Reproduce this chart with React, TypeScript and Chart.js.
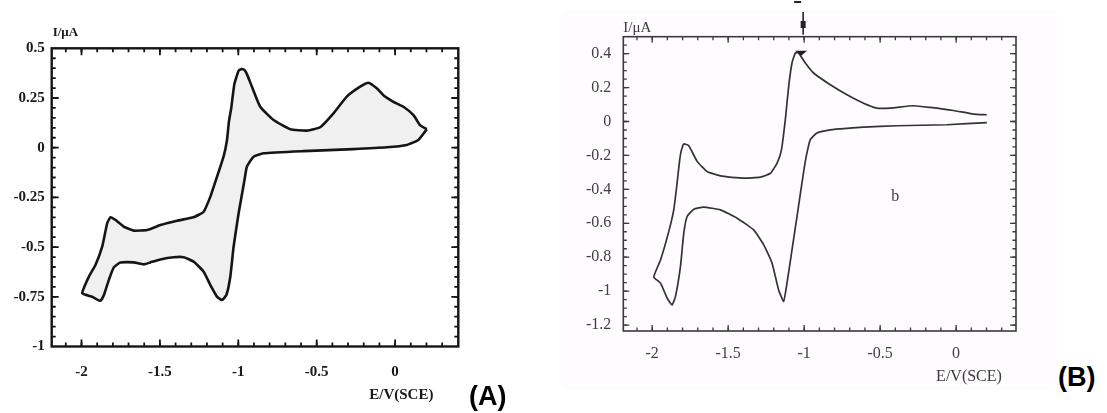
import React, { useEffect, useRef } from "react";
import { Chart, registerables } from "chart.js";

Chart.register(...registerables);

// ---------- Panel (A) ----------
const aPotential = [
  0.202, 0.191, 0.148, 0.075, -0.053, -0.266, -0.584, -0.839, -0.903, -0.945, -0.96, -0.998, -1.03, -1.051,
  -1.076, -1.104, -1.136, -1.178, -1.221, -1.285, -1.348, -1.412, -1.497, -1.561, -1.603, -1.667, -1.752,
  -1.794, -1.826, -1.857, -1.879, -1.932, -1.995,
  -1.953, -1.911, -1.868, -1.836, -1.815, -1.783, -1.731, -1.667, -1.581, -1.497, -1.391, -1.285, -1.221,
  -1.178, -1.15, -1.094, -1.072, -1.06, -1.045, -1.025, -0.998, -0.977, -0.96, -0.945, -0.913, -0.86,
  -0.775, -0.669, -0.562, -0.478, -0.393, -0.308, -0.223, -0.17, -0.117, -0.064, -0.011, 0.053, 0.117,
  0.159, 0.202,
];
const aCurrent = [
  0.093, 0.081, 0.039, 0.014, 0.002, -0.007, -0.017, -0.028, -0.045, -0.095, -0.16, -0.33, -0.498, -0.649,
  -0.741, -0.766, -0.749, -0.691, -0.624, -0.573, -0.551, -0.551, -0.562, -0.577, -0.587, -0.577, -0.578,
  -0.602, -0.666, -0.741, -0.77, -0.75, -0.732,
  -0.649, -0.59, -0.498, -0.38, -0.35, -0.364, -0.397, -0.417, -0.414, -0.389, -0.367, -0.35, -0.322,
  -0.246, -0.18, -0.045, 0.039, 0.13, 0.2, 0.32, 0.387, 0.396, 0.39, 0.37, 0.307, 0.206,
  0.139, 0.093, 0.086, 0.103, 0.173, 0.257, 0.307, 0.327, 0.299, 0.257, 0.231, 0.206, 0.164,
  0.114, 0.093,
];
const aXTicks = [-2, -1.5, -1, -0.5, 0];
const aYTicks = [0.5, 0.25, 0, -0.25, -0.5, -0.75, -1];

// ---------- Panel (B) ----------
const bPotential = [
  0.202, -0.061, -0.39, -0.609, -0.828, -0.916, -0.96, -0.985, -1.004, -1.047, -1.08, -1.113, -1.135,
  -1.168, -1.211, -1.266, -1.332, -1.441, -1.551, -1.661, -1.726, -1.77, -1.792, -1.814, -1.847, -1.869,
  -1.901, -1.945, -1.989,
  -1.945, -1.891, -1.858, -1.836, -1.819, -1.808, -1.792, -1.759, -1.704, -1.639, -1.551, -1.398, -1.288,
  -1.222, -1.178, -1.15, -1.124, -1.102, -1.08, -1.058, -1.037, -0.992, -0.938, -0.828, -0.718, -0.609,
  -0.521, -0.434, -0.28, -0.171, -0.018, 0.114, 0.202,
];
const bCurrent = [
  -0.006, -0.019, -0.025, -0.033, -0.049, -0.068, -0.108, -0.2, -0.3, -0.56, -0.757, -0.953, -1.06,
  -0.993, -0.835, -0.727, -0.639, -0.57, -0.521, -0.505, -0.517, -0.56, -0.658, -0.855, -1.032, -1.081,
  -1.042, -0.953, -0.916,
  -0.816, -0.649, -0.521, -0.363, -0.226, -0.17, -0.132, -0.143, -0.235, -0.295, -0.32, -0.334, -0.328,
  -0.305, -0.245, -0.17, 0.01, 0.206, 0.345, 0.404, 0.405, 0.345, 0.286, 0.217, 0.158, 0.108,
  0.079, 0.079, 0.093, 0.083, 0.065, 0.044, 0.04,
];
const bXTicks = [-2, -1.5, -1, -0.5, 0];
const bYTicks = [0.4, 0.2, 0, -0.2, -0.4, -0.6, -0.8, -1, -1.2];

const xMinorStep = 0.1;
const yMinorStep = 0.05;

const toPoints = (xs: number[], ys: number[]) => xs.map((x, i) => ({ x, y: ys[i] }));

const framePlugin = {
  id: "frameTicks",
  afterDatasetsDraw(chart: any, _args: any, opts: any) {
    const { ctx, chartArea: ca, scales } = chart;
    const sx = scales.x;
    const sy = scales.y;
    ctx.save();
    ctx.strokeStyle = opts.color;
    ctx.lineWidth = opts.frameWidth;
    ctx.strokeRect(ca.left, ca.top, ca.right - ca.left, ca.bottom - ca.top);
    ctx.lineWidth = opts.tickWidth;
    const drawX = (v: number, len: number) => {
      const px = sx.getPixelForValue(v);
      if (px < ca.left + 2 || px > ca.right - 2) return;
      ctx.beginPath();
      ctx.moveTo(px, ca.top);
      ctx.lineTo(px, ca.top + len);
      ctx.moveTo(px, ca.bottom);
      ctx.lineTo(px, ca.bottom - len);
      ctx.stroke();
    };
    const drawY = (v: number, len: number) => {
      const py = sy.getPixelForValue(v);
      if (py < ca.top + 2 || py > ca.bottom - 2) return;
      ctx.beginPath();
      ctx.moveTo(ca.left, py);
      ctx.lineTo(ca.left + len, py);
      ctx.moveTo(ca.right, py);
      ctx.lineTo(ca.right - len, py);
      ctx.stroke();
    };
    for (let n = Math.ceil(sx.min / xMinorStep); n <= Math.floor(sx.max / xMinorStep); n++) drawX(n * xMinorStep, opts.minorLen);
    for (let n = Math.ceil(sy.min / yMinorStep); n <= Math.floor(sy.max / yMinorStep); n++) drawY(n * yMinorStep, opts.minorLen);
    opts.xMajor.forEach((v: number) => drawX(v, opts.majorLen));
    opts.yMajor.forEach((v: number) => drawY(v, opts.majorLen));
    ctx.restore();
  },
};

const labelPlugin = {
  id: "panelLabels",
  afterDraw(chart: any, _args: any, opts: any) {
    const { ctx, chartArea: ca, scales } = chart;
    ctx.save();
    ctx.fillStyle = opts.color;
    ctx.textBaseline = "middle";
    ctx.font = opts.unitFont;
    ctx.textAlign = "left";
    ctx.fillText("I/μA", ca.left + opts.unitDx, ca.top + opts.unitDy);
    ctx.font = opts.axisFont;
    ctx.textAlign = "center";
    ctx.fillText("E/V(SCE)", ca.right + opts.axisDx, ca.bottom + opts.axisDy);
    if (opts.curveLabel) {
      ctx.font = opts.axisFont;
      ctx.fillText(
        opts.curveLabel.text,
        scales.x.getPixelForValue(opts.curveLabel.x),
        scales.y.getPixelForValue(opts.curveLabel.y)
      );
    }
    if (opts.marker !== undefined) {
      const px = scales.x.getPixelForValue(opts.marker);
      ctx.strokeStyle = "#222";
      ctx.lineWidth = 1.6;
      ctx.beginPath();
      ctx.moveTo(px - 1, 12);
      ctx.lineTo(px - 1, ca.top - 2);
      ctx.stroke();
      ctx.fillStyle = "#222";
      ctx.fillRect(px - 3.5, 21, 5, 7);
      ctx.fillRect(px - 10, 1, 7, 2);
      ctx.beginPath();
      ctx.moveTo(px - 9, ca.top + 14);
      ctx.lineTo(px + 3, ca.top + 14);
      ctx.lineTo(px - 3, ca.top + 19);
      ctx.closePath();
      ctx.fill();
    }
    ctx.restore();
  },
};

function makeConfig(p: any): any {
  return {
    type: "scatter",
    data: {
      datasets: [
        {
          data: p.points,
          showLine: true,
          pointRadius: 0,
          borderColor: p.lineColor,
          borderWidth: p.lineWidth,
          backgroundColor: p.fillColor,
          fill: p.fill,
          tension: 0.15,
        },
      ],
    },
    options: {
      animation: false,
      responsive: true,
      maintainAspectRatio: false,
      layout: { padding: { left: 0, top: p.padTop, right: p.padRight, bottom: 0 } },
      plugins: {
        legend: { display: false },
        tooltip: { enabled: false },
        frameTicks: p.frame,
        panelLabels: p.labels,
      },
      scales: {
        x: {
          type: "linear",
          min: p.xMin,
          max: p.xMax,
          grid: { display: false, drawTicks: false },
          border: { display: false },
          afterBuildTicks: (s: any) => {
            s.ticks = p.xTicks.map((v: number) => ({ value: v }));
          },
          afterFit: (s: any) => {
            s.height = p.xAxisHeight;
          },
          ticks: {
            font: p.tickFont,
            color: p.tickColor,
            padding: p.xPad,
            maxRotation: 0,
            autoSkip: false,
            callback: (v: any) => String(v),
          },
        },
        y: {
          type: "linear",
          min: p.yMin,
          max: p.yMax,
          grid: { display: false, drawTicks: false },
          border: { display: false },
          afterBuildTicks: (s: any) => {
            s.ticks = p.yTicks.map((v: number) => ({ value: v }));
          },
          afterFit: (s: any) => {
            s.width = p.yAxisWidth;
          },
          ticks: {
            font: p.tickFont,
            color: p.tickColor,
            padding: p.yPad,
            autoSkip: false,
            callback: (v: any) => String(v),
          },
        },
      },
    },
    plugins: [framePlugin, labelPlugin],
  };
}

export default function App() {
  const refA = useRef<HTMLCanvasElement>(null);
  const refB = useRef<HTMLCanvasElement>(null);

  useEffect(() => {
    const pts = toPoints(aPotential, aCurrent);
    const chartA = new Chart(
      refA.current as HTMLCanvasElement,
      makeConfig({
        points: [...pts, pts[0]],
        lineColor: "#151515",
        lineWidth: 2.6,
        fillColor: "#f0f0f0",
        fill: "shape",
        padTop: 48.3,
        padRight: 21.7,
        xAxisHeight: 66.5,
        yAxisWidth: 51.7,
        xMin: -2.19,
        xMax: 0.403,
        yMin: -1,
        yMax: 0.5,
        xTicks: aXTicks,
        yTicks: aYTicks,
        tickFont: { family: "'Liberation Serif', 'DejaVu Serif', serif", size: 15, weight: "bold" },
        tickColor: "#1a1a1a",
        xPad: 17,
        yPad: 7,
        frame: { color: "#151515", frameWidth: 2.4, tickWidth: 1.8, majorLen: 7, minorLen: 4, xMajor: aXTicks, yMajor: aYTicks },
        labels: {
          color: "#1a1a1a",
          unitFont: "bold 13px 'Liberation Serif', serif",
          unitDx: 1,
          unitDy: -16,
          axisFont: "bold 15px 'Liberation Serif', serif",
          axisDx: -57,
          axisDy: 48.5,
        },
      })
    );
    const chartB = new Chart(
      refB.current as HTMLCanvasElement,
      makeConfig({
        points: toPoints(bPotential, bCurrent),
        lineColor: "#333333",
        lineWidth: 1.7,
        fillColor: "rgba(0,0,0,0)",
        fill: false,
        padTop: 36.7,
        padRight: 41,
        xAxisHeight: 82,
        yAxisWidth: 60.3,
        xMin: -2.19,
        xMax: 0.394,
        yMin: -1.235,
        yMax: 0.5,
        xTicks: bXTicks,
        yTicks: bYTicks,
        tickFont: { family: "'Liberation Serif', 'DejaVu Serif', serif", size: 16, weight: "normal" },
        tickColor: "#404040",
        xPad: 13,
        yPad: 12,
        frame: { color: "#3a3a3a", frameWidth: 1.6, tickWidth: 1.3, majorLen: 6, minorLen: 3.5, xMajor: bXTicks, yMajor: bYTicks },
        labels: {
          color: "#3a3a3a",
          unitFont: "15px 'Liberation Serif', serif",
          unitDx: 0,
          unitDy: -9,
          axisFont: "16px 'Liberation Serif', serif",
          axisDx: -47,
          axisDy: 46,
          curveLabel: { text: "b", x: -0.4, y: -0.444 },
          marker: -1.0,
        },
      })
    );
    return () => {
      chartA.destroy();
      chartB.destroy();
    };
  }, []);

  return (
    <div
      style={{
        position: "fixed",
        left: 0,
        top: 0,
        width: 1107,
        height: 413,
        background: "#ffffff",
        overflow: "hidden",
      }}
    >
      <div style={{ position: "absolute", left: 563, top: 10, width: 494, height: 380, background: "#fefcfe" }} />
      <div style={{ position: "absolute", left: 0, top: 0, width: 480, height: 413 }}>
        <canvas ref={refA} />
      </div>
      <div style={{ position: "absolute", left: 563, top: 0, width: 494, height: 413 }}>
        <canvas ref={refB} />
      </div>
      <div
        style={{
          position: "absolute",
          left: 469,
          top: 382,
          font: "bold 27px 'Liberation Sans', Arial, sans-serif",
          lineHeight: "28px",
          color: "#000",
        }}
      >
        (A)
      </div>
      <div
        style={{
          position: "absolute",
          left: 1058,
          top: 363,
          font: "bold 27px 'Liberation Sans', Arial, sans-serif",
          lineHeight: "28px",
          color: "#000",
        }}
      >
        (B)
      </div>
    </div>
  );
}
